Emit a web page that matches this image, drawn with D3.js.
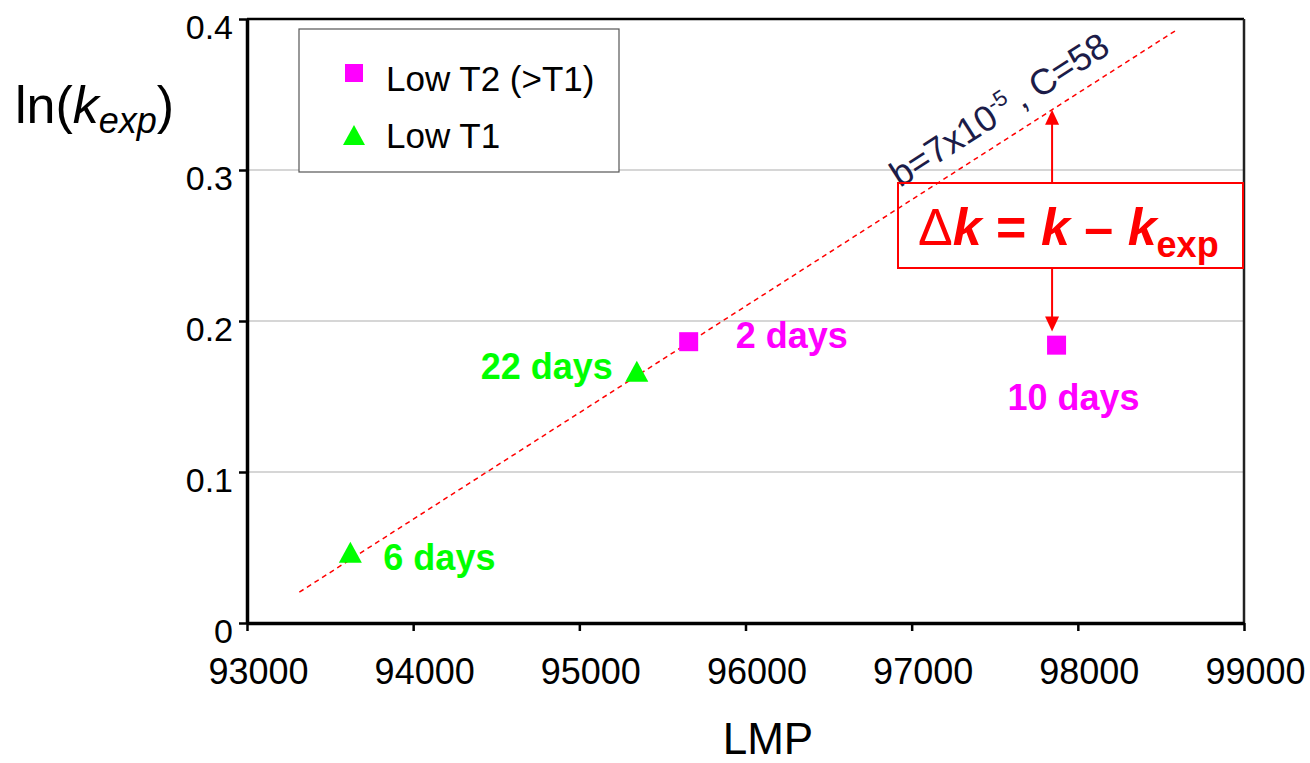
<!DOCTYPE html>
<html>
<head>
<meta charset="utf-8">
<script src="https://cdn.jsdelivr.net/npm/d3@7"></script>
<style>
  body { margin: 0; background: #fff; }
  text { font-family: "Liberation Sans", Arial, sans-serif; }
</style>
</head>
<body>
<div id="myChart"></div>
<script>
// data
let t2X = [95658, 97872],
    t2Y = [0.1863, 0.184],
    t2Labels = ["2 days", "10 days"];
let t1X = [93622, 95346],
    t1Y = [0.0468, 0.1668],
    t1Labels = ["6 days", "22 days"];
let fitX = [93315, 98598],
    fitY = [0.0204, 0.393];
let xTicks = [93000, 94000, 95000, 96000, 97000, 98000, 99000],
    yTicks = [0, 0.1, 0.2, 0.3, 0.4],
    yTickLabels = ["0", "0.1", "0.2", "0.3", "0.4"];
let arrowX = 97845, arrowLowY = 0.193;

let W = 1310, H = 763;
let margin = { top: 19, right: 66, bottom: 140, left: 247 },
    width = W - margin.left - margin.right,
    height = H - margin.top - margin.bottom;

let svg = d3.select("#myChart").append("svg")
  .attr("width", W)
  .attr("height", H);

let g = svg.append("g")
  .attr("transform", "translate(" + margin.left + "," + margin.top + ")");

let x = d3.scaleLinear().domain([93000, 99000]).range([0, width]);
let y = d3.scaleLinear().domain([0, 0.4]).range([height, 0]);

let magenta = "#ff00ff", green = "#00ff00", red = "#ff0000";

// gridlines
g.selectAll(".grid")
  .data(yTicks.filter(d => d > 0 && d < 0.4))
  .enter().append("line")
  .attr("x1", 0).attr("x2", width)
  .attr("y1", d => y(d)).attr("y2", d => y(d))
  .attr("stroke", "#c8c8c8").attr("stroke-width", 1.5);

// top and right frame
g.append("line").attr("x1", 0).attr("x2", width).attr("y1", 0).attr("y2", 0)
  .attr("stroke", "#000").attr("stroke-width", 2.5);
g.append("line").attr("x1", width).attr("x2", width).attr("y1", 0).attr("y2", height)
  .attr("stroke", "#222").attr("stroke-width", 2.5);

// x axis
let xAxis = g.append("g")
  .attr("transform", "translate(0," + height + ")")
  .call(d3.axisBottom(x).tickValues(xTicks).tickSize(8).tickSizeOuter(0).tickFormat(d => String(d)));
xAxis.select(".domain").attr("stroke-width", 3.5);
xAxis.selectAll(".tick line").attr("stroke-width", 2.5);
xAxis.selectAll(".tick text")
  .attr("font-size", 36).attr("font-family", "Liberation Sans, Arial, sans-serif")
  .attr("fill", "#000").attr("y", 0).attr("dy", 61).attr("dx", 11);

// y axis
let yAxis = g.append("g")
  .call(d3.axisLeft(y).tickValues(yTicks).tickSize(8).tickSizeOuter(0).tickFormat((d, i) => yTickLabels[i]));
yAxis.select(".domain").attr("stroke-width", 3.5);
yAxis.selectAll(".tick text")
  .attr("font-size", 34).attr("font-family", "Liberation Sans, Arial, sans-serif")
  .attr("fill", "#000").attr("x", -14).attr("dy", 19);
yAxis.selectAll(".tick line").attr("stroke-width", 2.5);

// axis titles
svg.append("text").attr("x", 768).attr("y", 754).attr("text-anchor", "middle")
  .attr("font-size", 44).text("LMP");
let yl = svg.append("text").attr("x", 15).attr("y", 123).attr("font-size", 52);
yl.append("tspan").text("ln(");
yl.append("tspan").attr("font-style", "italic").text("k");
yl.append("tspan").attr("font-style", "italic").attr("font-size", 36).attr("dy", 10).text("exp");
yl.append("tspan").attr("dy", -10).text(")");

// fit line
g.append("line")
  .attr("x1", x(fitX[0])).attr("y1", y(fitY[0]))
  .attr("x2", x(fitX[1])).attr("y2", y(fitY[1]))
  .attr("stroke", red).attr("stroke-width", 1.5).attr("stroke-dasharray", "5,4");

// slope annotation
let ang = Math.atan2(y(fitY[0]) - y(fitY[1]), x(fitX[1]) - x(fitX[0])) * 180 / Math.PI;
let ann = svg.append("text")
  .attr("transform", "translate(900,188) rotate(" + (-ang) + ")")
  .attr("font-size", 36).attr("fill", "#1c1c48");
ann.append("tspan").text("b=7x10");
ann.append("tspan").attr("font-size", 22).attr("dy", -14).text("-5");
ann.append("tspan").attr("dy", 14).attr("dx", 6).text(", C=58");

// delta k box
svg.append("rect").attr("x", 898).attr("y", 183).attr("width", 345).attr("height", 85)
  .attr("fill", "none").attr("stroke", red).attr("stroke-width", 2);
let dk = svg.append("text").attr("x", 918).attr("y", 245).attr("font-size", 52)
  .attr("fill", red).attr("font-weight", "bold");
dk.append("tspan").attr("font-weight", "normal").text("\u0394");
dk.append("tspan").attr("font-style", "italic").text("k");
dk.append("tspan").text(" = ");
dk.append("tspan").attr("font-style", "italic").text("k");
dk.append("tspan").text(" \u2013 ");
dk.append("tspan").attr("font-style", "italic").text("k");
dk.append("tspan").attr("font-size", 36).attr("dy", 12).text("exp");

// arrows
let ax = margin.left + x(arrowX);
let fitAt = fitY[0] + (arrowX - fitX[0]) * (fitY[1] - fitY[0]) / (fitX[1] - fitX[0]);
let upTip = margin.top + y(fitAt), downTip = margin.top + y(arrowLowY);
svg.append("line").attr("x1", ax).attr("x2", ax).attr("y1", 183).attr("y2", upTip + 12)
  .attr("stroke", red).attr("stroke-width", 2);
svg.append("path").attr("d", `M${ax},${upTip} L${ax - 7},${upTip + 15} L${ax + 7},${upTip + 15} Z`).attr("fill", red);
svg.append("line").attr("x1", ax).attr("x2", ax).attr("y1", 268).attr("y2", downTip - 12)
  .attr("stroke", red).attr("stroke-width", 2);
svg.append("path").attr("d", `M${ax},${downTip} L${ax - 7},${downTip - 15} L${ax + 7},${downTip - 15} Z`).attr("fill", red);

// markers
let tri = (w, h) => `M0,${-h / 2} L${w / 2},${h / 2} L${-w / 2},${h / 2} Z`;
let t2 = t2X.map((v, i) => ({ x: v, y: t2Y[i], label: t2Labels[i] }));
let t1 = t1X.map((v, i) => ({ x: v, y: t1Y[i], label: t1Labels[i] }));

g.selectAll(".sq").data(t2).enter().append("rect")
  .attr("x", d => x(d.x) - 9.5).attr("y", d => y(d.y) - 9.5)
  .attr("width", 19).attr("height", 19).attr("fill", magenta);
g.selectAll(".tri").data(t1).enter().append("path")
  .attr("transform", d => "translate(" + x(d.x) + "," + y(d.y) + ")")
  .attr("d", tri(23, 21)).attr("fill", green);

// point labels
let t2Off = [{ dx: 47, dy: 6, a: "start" }, { dx: 17, dy: 65, a: "middle" }];
let t1Off = [{ dx: 33, dy: 18, a: "start" }, { dx: -24, dy: 8, a: "end" }];
g.selectAll(".l2").data(t2).enter().append("text")
  .attr("x", (d, i) => x(d.x) + t2Off[i].dx).attr("y", (d, i) => y(d.y) + t2Off[i].dy)
  .attr("text-anchor", (d, i) => t2Off[i].a)
  .attr("font-size", 36).attr("font-weight", "bold").attr("fill", magenta)
  .text(d => d.label);
g.selectAll(".l1").data(t1).enter().append("text")
  .attr("x", (d, i) => x(d.x) + t1Off[i].dx).attr("y", (d, i) => y(d.y) + t1Off[i].dy)
  .attr("text-anchor", (d, i) => t1Off[i].a)
  .attr("font-size", 36).attr("font-weight", "bold").attr("fill", green)
  .text(d => d.label);

// legend
let lg = svg.append("g");
lg.append("rect").attr("x", 299).attr("y", 29).attr("width", 320).attr("height", 143)
  .attr("fill", "#fff").attr("stroke", "#555").attr("stroke-width", 1.2);
lg.append("rect").attr("x", 345).attr("y", 64).attr("width", 18).attr("height", 18).attr("fill", magenta);
lg.append("text").attr("x", 386).attr("y", 91).attr("font-size", 35).text("Low T2 (>T1)");
lg.append("path").attr("transform", "translate(354,135)").attr("d", tri(22, 20)).attr("fill", green);
lg.append("text").attr("x", 386).attr("y", 148).attr("font-size", 35).text("Low T1");
</script>
</body>
</html>
